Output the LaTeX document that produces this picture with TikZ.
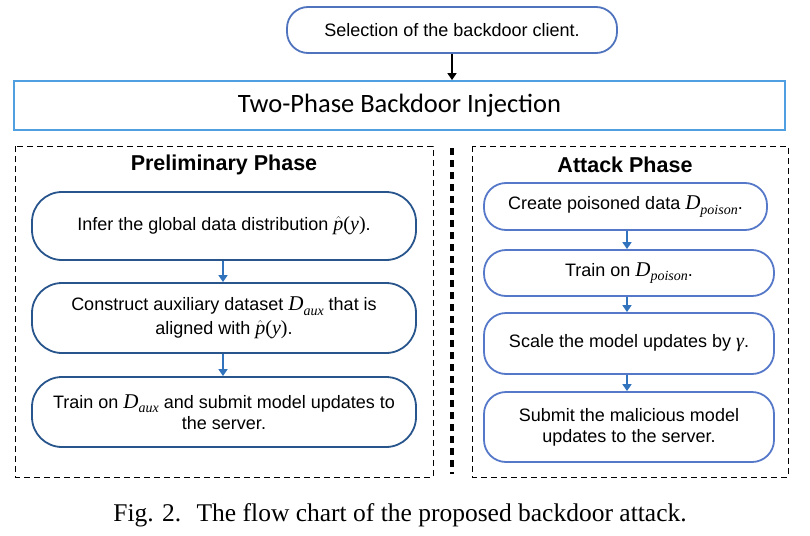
\documentclass[tikz,border=0pt]{standalone}
\usepackage{fontspec}
\setmainfont{Liberation Sans}
\newfontfamily\tms{Liberation Serif}
\newfontfamily\calfont{Carlito}
\usetikzlibrary{arrows.meta}
\newcommand\Dsub[1]{{\tms\itshape\fontsize{21}{21}\selectfont D}\raisebox{-0.45ex}{\tms\itshape\fontsize{14}{14}\selectfont #1}}
\newcommand\phaty{$\hat{\hbox{\tms\itshape\fontsize{20}{20}\selectfont p}}$\hbox{\tms\fontsize{20}{20}\selectfont(\itshape y\/\upshape)}}
\newcommand\gam{{\tms\itshape\fontsize{20}{20}\selectfont γ}}
\definecolor{topc}{RGB}{80,115,190}
\definecolor{injc}{RGB}{80,160,225}
\definecolor{leftc}{RGB}{40,85,140}
\definecolor{rightc}{RGB}{85,120,200}
\definecolor{arrc}{RGB}{50,115,190}
\tikzset{
  boxtext/.style={font=\fontsize{18}{21}\selectfont, align=center, inner sep=0pt},
  lbox/.style={boxtext, draw=leftc, line width=1.8pt, rounded corners=30pt, minimum width=384pt},
  rbox/.style={boxtext, draw=rightc, line width=1.8pt, rounded corners=22pt},
  phasebox/.style={draw=black, line width=0.9pt, dash pattern=on 6pt off 4pt},
  flow/.style={draw=arrc, line width=1.6pt, -{Triangle[length=7pt,width=9pt]}},
  title/.style={font=\bfseries\fontsize{21.5}{24}\selectfont}
}
\begin{document}
\begin{tikzpicture}[x=1pt,y=-1pt]
\useasboundingbox (0,0) rectangle (810,535);
% top
\node[boxtext, draw=topc, line width=1.8pt, rounded corners=21pt, minimum width=330pt, minimum height=46pt] (sel) at (452,30) {Selection of the backdoor client.};
\node[draw=injc, line width=1.8pt, minimum width=771pt, minimum height=49pt, inner sep=0pt, font=\calfont\fontsize{26.5}{28}\selectfont] (inj) at (399.5,105.5) {Two-Phase Backdoor Injection};
\coordinate (tx) at (452,0);
\draw[line width=1.6pt, -{Triangle[length=7pt,width=9pt]}] (sel.south) -- (inj.north -| tx);
% phase frames
\draw[phasebox] (15,146) rectangle (433,477);
\draw[phasebox] (472,146) rectangle (788,477);
\coordinate (sepT) at (452,148);
\coordinate (sepB) at (452,474);
\draw[line width=3.5pt, dash pattern=on 7pt off 5pt] (sepT) -- (sepB);
\node[title] (pre) at (224,165) {Preliminary Phase};
\node[title] (att) at (625,165) {Attack Phase};
% left flow
\node[lbox, minimum height=68pt] (l1) at (224,226) {Infer the global data distribution \phaty.};
\node[lbox, minimum height=70pt] (l2) at (224,318) {Construct auxiliary dataset \Dsub{aux} that is\\[3pt] aligned with \phaty.};
\node[lbox, minimum height=70pt] (l3) at (224,412) {Train on \Dsub{aux} and submit model updates to\\ the server.};
\coordinate (lx) at (223,0);
\draw[flow] (l1.south -| lx) -- (l2.north -| lx);
\draw[flow] (l2.south -| lx) -- (l3.north -| lx);
% right flow
\node[rbox, minimum width=283pt, minimum height=47pt] (r1) at (625.5,206.5) {Create poisoned data \Dsub{poison}.};
\node[rbox, minimum width=290pt, minimum height=46pt] (r2) at (629,273) {Train on \Dsub{poison}.};
\node[rbox, minimum width=290pt, minimum height=61pt] (r3) at (629,343.5) {Scale the model updates by \gam.};
\node[rbox, minimum width=290pt, minimum height=70pt] (r4) at (629,427) {Submit the malicious model\\ updates to the server.};
\coordinate (rx) at (627,0);
\draw[flow] (r1.south -| rx) -- (r2.north -| rx);
\draw[flow] (r2.south -| rx) -- (r3.north -| rx);
\draw[flow] (r3.south -| rx) -- (r4.north -| rx);
% caption
\node[font=\tms\fontsize{25.5}{28}\selectfont] (cap) at (400,515) {Fig. 2.\hspace{0.6em}The flow chart of the proposed backdoor attack.};
\end{tikzpicture}
\end{document}
